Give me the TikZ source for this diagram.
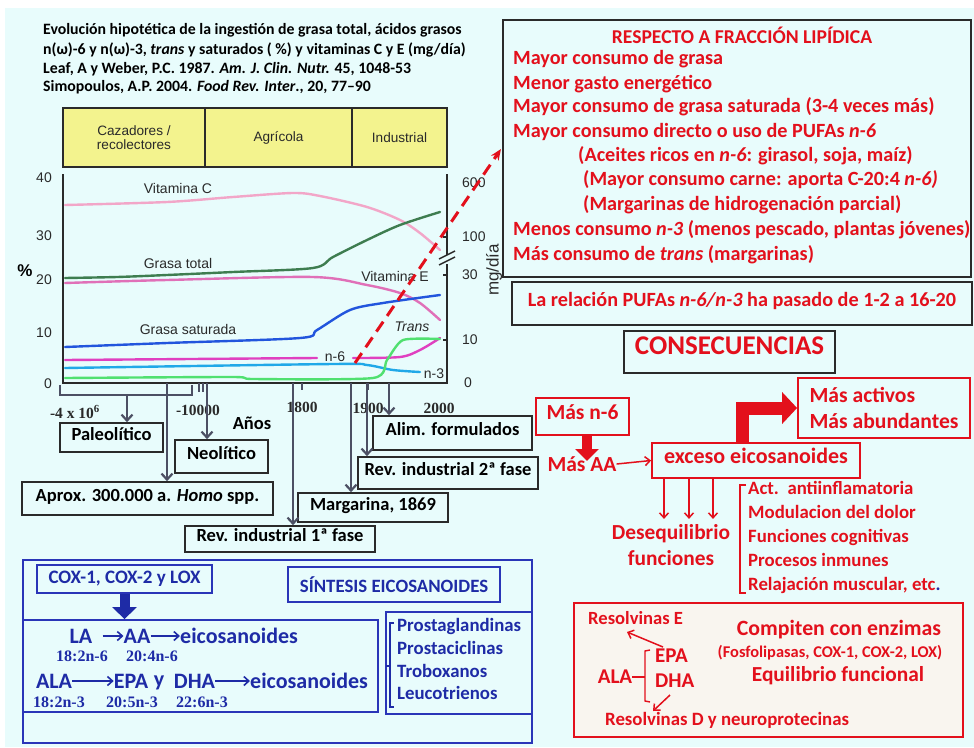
\documentclass[tikz,border=0pt]{standalone}
\usepackage{fontspec}
\setmainfont{Carlito}
\newfontfamily\arialf{Liberation Sans}
\newfontfamily\timesf{Liberation Serif}
\usetikzlibrary{arrows.meta}
\newcommand{\myfs}[1]{\fontsize{#1}{#1}\selectfont}
\definecolor{bgc}{HTML}{E8FCFC}
\definecolor{myred}{HTML}{E3101C}
\definecolor{myblue}{HTML}{1E2BA6}
\definecolor{bline}{HTML}{2A35B8}
\definecolor{gline}{HTML}{4C5064}
\definecolor{era}{HTML}{F3F38E}
\definecolor{dk}{HTML}{2A2A2A}
\definecolor{cvitc}{HTML}{F2A6C8}
\definecolor{cgt}{HTML}{3E7D50}
\definecolor{cvite}{HTML}{E070B8}
\definecolor{csat}{HTML}{2255DD}
\definecolor{cnsix}{HTML}{E040C0}
\definecolor{cnthree}{HTML}{20A8E8}
\definecolor{ctrans}{HTML}{50E070}
\definecolor{beige}{HTML}{F9F5EF}
\tikzset{
  ttl/.style={anchor=mid west, inner sep=0, font=\bfseries\myfs{15.8}, text=black},
  eratxt/.style={font=\arialf\myfs{13.6}, text=dk, align=center},
  clab/.style={font=\arialf\myfs{14}, text=dk, inner sep=0},
  curve/.style={line width=2.4pt, line cap=round, line join=round},
  yr/.style={font=\timesf\bfseries\myfs{15.5}, text=dk, inner sep=0},
  gbox/.style={draw=dk, line width=1.6pt, font=\bfseries\myfs{18.5}, text=black, inner sep=0, text height=0.72em, text depth=0.2em},
  tl/.style={draw=gline, line width=2.2pt, -{Straight Barb[length=6pt,width=11pt]}},
  rtxt/.style={anchor=mid west, inner sep=0, font=\bfseries\myfs{20.2}, text=myred},
  rbox/.style={draw=myred, line width=1.8pt, text=myred, font=\bfseries\myfs{21.5}, inner sep=0, text height=0.72em, text depth=0.2em},
  rboxb/.style={draw=myred, line width=1.8pt, text=myred, inner sep=0},
  kbox/.style={draw=dk, line width=1.8pt, text=myred, font=\bfseries\myfs{20.2}, inner sep=0, text height=0.72em, text depth=0.2em},
  btxt/.style={inner sep=0, font=\bfseries\myfs{22}, text=myblue},
  bsub/.style={inner sep=0, font=\timesf\bfseries\myfs{16}, text=myblue},
  barr/.style={draw=myblue, line width=1.6pt, -{Straight Barb[length=5pt,width=9pt]}},
  bbox/.style={draw=bline, line width=1.8pt, inner sep=0},
  plist/.style={anchor=mid west, inner sep=0, font=\bfseries\myfs{18.8}, text=myblue},
}
\begin{document}
\begin{tikzpicture}[x=1pt,y=-1pt]
\useasboundingbox (0,0) rectangle (974,747);
\fill[white] (0,0) rectangle (974,747);
\fill[bgc] (5,8) rectangle (974,747);

% ---------- title ----------
\node[ttl] (t1) at (43,32) {Evolución hipotética de la ingestión de grasa total, ácidos grasos};
\node[ttl] (t2) at (43,52) {n(ω)-6 y n(ω)-3, \textit{trans} y saturados ( \%) y vitaminas C y E (mg/día)};
\node[ttl] (t3) at (43,71) {Leaf, A y Weber, P.C. 1987. \textit{Am. J. Clin. Nutr.} 45, 1048-53};
\node[ttl] (t4) at (43,89) {Simopoulos, A.P. 2004. \textit{Food Rev. Inter}., 20, 77–90};

% ---------- eras ----------
\node[draw=dk, line width=1.6pt, fill=era, minimum width=142pt, minimum height=59pt, inner sep=0] (e1) at (134,137.5) {};
\node[draw=dk, line width=1.6pt, fill=era, minimum width=147pt, minimum height=59pt, inner sep=0] (e2) at (278.5,137.5) {};
\node[draw=dk, line width=1.6pt, fill=era, minimum width=95pt, minimum height=59pt, inner sep=0] (e3) at (399.5,137.5) {};
\node[eratxt] (e1t) at (e1) {Cazadores /\\recolectores};
\node[eratxt] (e2t) at (e2) {Agrícola};
\node[eratxt] (e3t) at (e3) {Industrial};

% ---------- chart frame ----------
\draw[dk, line width=2pt] (63,174) -- (63,383) -- (447,383) -- (447,264);
\draw[dk, line width=2pt] (447,255) -- (447,174);
\draw[dk, line width=1.5pt] (439,259) -- (455,251) (439,265) -- (455,257);
\foreach \yy in {237,275,340} \draw[dk, line width=1.5pt] (447,\yy) -- (443,\yy);

% left axis labels
\node[clab, anchor=east] (l40) at (52,178) {40};
\node[clab, anchor=east] (l30) at (52,236) {30};
\node[clab, anchor=east] (l20) at (52,280) {20};
\node[clab, anchor=east] (l10) at (52,333) {10};
\node[clab, anchor=east] (l0) at (52,384) {0};
\node[font=\arialf\bfseries\myfs{17}, inner sep=0] (pct) at (25,271) {\%};
% right axis labels
\node[clab, anchor=west] (r600) at (462,183) {600};
\node[clab, anchor=west] (r100) at (462,237) {100};
\node[clab, anchor=west] (r30) at (462,275) {30};
\node[clab, anchor=west] (r10) at (462,340) {10};
\node[clab, anchor=west] (r0) at (464,383) {0};
\node[clab, font=\arialf\myfs{17}, rotate=90] (mgd) at (494,270) {mg/día};

% curves
\draw[curve, cvitc] plot[smooth, tension=0.5] coordinates {(65,205) (167,202) (233,197) (293,193) (320,196) (367,207) (400,220) (420,233) (440,250)};
\draw[curve, cgt] plot[smooth, tension=0.5] coordinates {(65,278) (117,277) (167,275) (233,272) (313,268) (333,257) (367,240) (400,225) (440,212)};
\draw[curve, cvite] plot[smooth, tension=0.5] coordinates {(65,283) (167,280) (313,277) (367,285) (400,293) (420,303) (440,320)};
\draw[curve, csat] plot[smooth, tension=0.5] coordinates {(65,347) (167,343) (300,338) (317,330) (350,310) (383,303) (440,295)};
\draw[curve, cnsix] (65,360) -- (317,358);
\draw[curve, cnsix] plot[smooth, tension=0.5] coordinates {(353,358) (400,357) (420,350) (440,338)};
\draw[curve, cnthree] plot[smooth, tension=0.5] coordinates {(65,368) (333,364) (367,365) (393,370) (420,372)};
\draw[curve, ctrans] plot[smooth, tension=0.4] coordinates {(65,378) (233,377) (253,379) (373,378) (387,360) (403,340) (440,339)};

\node[clab] (lvc) at (178,188) {Vitamina C};
\node[clab] (lgt) at (178,263) {Grasa total};
\node[clab] (lve) at (395,276) {Vitamina E};
\node[clab] (lgs) at (188,329) {Grasa saturada};
\node[clab] (ln6) at (335,357) {n-6};
\node[clab] (ln3) at (434,374) {n-3};
\node[clab, font=\arialf\itshape\myfs{14}] (ltr) at (412,327) {Trans};

% ---------- timeline ----------
\draw[gline, line width=2pt] (60,385) -- (60,395) -- (192,395) -- (192,385);
\draw[gline, line width=2pt] (199,383) -- (199,392) (203,383) -- (203,392) (302,383) -- (302,390) (368,383) -- (368,390);

\node[yr] (y1) at (75,412) {-4 x 10\textsuperscript{6}};
\node[yr] (y2) at (198,410) {-10000};
\node[font=\bfseries\myfs{18.5}, inner sep=0] (anos) at (252,423) {Años};
\node[yr] (y3) at (302,407) {1800};
\node[yr] (y4) at (368,408) {1900};
\node[yr] (y5) at (439,408) {2000};

\node[gbox, minimum width=103pt, minimum height=29pt] (pal) at (111.5,437.5) {Paleolítico};
\node[gbox, minimum width=93pt, minimum height=33pt] (neo) at (221.5,456.5) {Neolítico};
\node[gbox, minimum width=251pt, minimum height=33pt] (apr) at (147.5,498.5) {Aprox. 300.000 a. \textit{Homo} spp.};
\node[gbox, minimum width=190pt, minimum height=26pt] (rev1) at (280,539) {Rev. industrial 1ª fase};
\node[gbox, minimum width=150pt, minimum height=29pt] (marg) at (373,507.5) {Margarina, 1869};
\node[gbox, minimum width=180pt, minimum height=32pt] (rev2) at (448,473) {Rev. industrial 2ª fase};
\node[gbox, minimum width=159pt, minimum height=34pt] (alim) at (452.5,433) {Alim. formulados};

\coordinate (tb) at (127,395);
\coordinate (ta) at (167,383);
\coordinate (tn) at (207,383);
\coordinate (tr1) at (293,383);
\coordinate (tm) at (351,383);
\coordinate (tr2) at (367,383);
\coordinate (tal) at (389,383);
\draw[tl] (tb) -- (tb |- pal.north);
\draw[tl] (ta) -- (ta |- apr.north);
\draw[tl] (tn) -- (tn |- neo.north);
\draw[tl] (tr1) -- (tr1 |- rev1.north);
\draw[tl] (tm) -- (tm |- marg.north);
\draw[tl] (tr2) -- (tr2 |- rev2.north);
\draw[tl] (tal) -- (tal |- alim.north);

% ---------- right top box ----------
\node[draw=dk, line width=1.8pt, minimum width=468pt, minimum height=257pt, inner sep=0] (big) at (737,148.5) {};
\node[rtxt, anchor=center, font=\bfseries\myfs{19.6}] (rh) at (742,35) {RESPECTO A FRACCIÓN LIPÍDICA};
\node[rtxt] (ra) at (513,62) {Mayor consumo de grasa};
\node[rtxt] (rb) at (513,87) {Menor gasto energético};
\node[rtxt] (rc) at (513,110) {Mayor consumo de grasa saturada (3-4 veces más)};
\node[rtxt] (rd) at (513,135) {Mayor consumo directo o uso de PUFAs \textit{n-6}};
\node[rtxt] (re) at (578,159) {(Aceites ricos en \textit{n-6}: girasol, soja, maíz)};
\node[rtxt] (rf) at (583,183) {(Mayor consumo carne: aporta C-20:4 \textit{n-6)}};
\node[rtxt] (rg) at (583,208) {(Margarinas de hidrogenación parcial)};
\node[rtxt] (rh2) at (513,233) {Menos consumo \textit{n-3} (menos pescado, plantas jóvenes)};
\node[rtxt] (ri) at (513,258) {Más consumo de \textit{trans} (margarinas)};

\coordinate (ds) at (355,363);
\coordinate (de) at (501,149);
\draw[myred, line width=3pt, dash pattern=on 12pt off 7pt, -{Stealth[length=11pt,width=9pt]}] (ds) -- (de);

\node[kbox, minimum width=460pt, minimum height=43pt] (pufa) at (742,303.5) {La relación PUFAs \textit{n-6/n-3} ha pasado de 1-2 a 16-20};

% ---------- consecuencias ----------
\node[kbox, minimum width=211pt, minimum height=42pt, font=\bfseries\myfs{27}] (cons) at (729.5,352) {CONSECUENCIAS};
\node[rbox, minimum width=93pt, minimum height=37pt] (mn6) at (582.5,416.5) {Más n-6};
\node[rtxt, anchor=center, font=\bfseries\myfs{21.5}] (maa) at (582,464) {Más AA};
\node[rbox, font=\bfseries\myfs{22}, minimum width=208pt, minimum height=35pt] (exc) at (756,460.5) {exceso eicosanoides};
\node[rboxb, minimum width=172pt, minimum height=60pt, align=left, font=\bfseries\fontsize{21.6}{26}\selectfont] (act) at (884,408) {Más activos\\Más abundantes};

\coordinate (dn) at (587,435);
\coordinate (dnend) at (587,461);
\draw[myred, line width=10pt, -{Triangle[length=12pt,width=23pt]}] (dn) -- (dnend);
\draw[myred, line width=1.5pt, -{Straight Barb[length=5pt,width=9pt]}] (maa.east) -- (exc.west);
\coordinate (bx) at (742,0);
\draw[myred, line width=13pt, -{Triangle[length=15pt,width=31pt]}] (exc.north -| bx) |- (act.west);

\coordinate (d1) at (664,0);
\coordinate (d2) at (689,0);
\coordinate (d3) at (713,0);
\node[rtxt, anchor=center, align=center, font=\bfseries\fontsize{21.4}{26}\selectfont] (deseq) at (671,545) {Desequilibrio\\funciones};
\foreach \c in {d1,d2,d3}
  \draw[myred, line width=1.5pt, -{Straight Barb[length=5pt,width=9pt]}] (exc.south -| \c) -- ++(0,40);
\draw[myred, line width=1.3pt] (746,485) -- (740,485) -- (740,593) -- (746,593);
\node[rtxt, anchor=west, align=left, font=\bfseries\fontsize{18.8}{24}\selectfont] (funcs) at (748,537) {Act.\ \ antiinflamatoria\\Modulacion del dolor\\Funciones cognitivas\\Procesos inmunes\\Relajación muscular, etc\textcolor{myblue}{.}};

% ---------- bottom right box ----------
\node[draw=myred, line width=2pt, fill=beige, minimum width=389pt, minimum height=134pt, inner sep=0] (br) at (768.5,670) {};
\node[rtxt, font=\bfseries\myfs{18.6}] (rese) at (588,622) {Resolvinas E};
\node[rtxt, font=\bfseries\myfs{21}] (epa) at (655,660) {EPA};
\node[rtxt, font=\bfseries\myfs{21}] (dha) at (655,685) {DHA};
\node[rtxt, anchor=center, font=\bfseries\myfs{21}] (alab) at (615,677) {ALA};
\node[rtxt, font=\bfseries\myfs{18.8}] (resd) at (605,723) {Resolvinas D y neuroprotecinas};
\node[rtxt, anchor=center, font=\bfseries\myfs{21.8}] (comp) at (839,630) {Compiten con enzimas};
\node[rtxt, anchor=center, font=\bfseries\myfs{16.4}] (fosf) at (830,653) {(Fosfolipasas, COX-1, COX-2, LOX)};
\node[rtxt, anchor=center, font=\bfseries\myfs{21.4}] (equi) at (838,676) {Equilibrio funcional};
\draw[myred, line width=1.4pt] (650,650) -- (645,651) -- (645,701) -- (650,702);
\draw[myred, line width=1.4pt] (alab.east) -- (645,677);
\coordinate (reend) at (627,632);
\coordinate (epast) at (663,647);
\coordinate (dhast) at (670,695);
\coordinate (rdend) at (653,711);
\draw[myred, line width=1.5pt, -{Straight Barb[length=5pt,width=9pt]}] (epast) -- (reend);
\draw[myred, line width=1.5pt, -{Straight Barb[length=5pt,width=9pt]}] (dhast) -- (rdend);

% ---------- bottom left blue box ----------
\node[bbox, minimum width=509pt, minimum height=183pt] (syn) at (277.5,651.5) {};
\node[bbox, minimum width=355pt, minimum height=92pt] (inner) at (200.5,666) {};
\node[bbox, minimum width=146pt, minimum height=102pt] (plbox) at (459,663) {};
\node[bbox, minimum width=175pt, minimum height=28pt, font=\bfseries\myfs{19}, text=myblue] (cox) at (124.5,579) {COX-1, COX-2 y LOX};
\node[bbox, minimum width=212pt, minimum height=35pt, font=\bfseries\myfs{18.8}, text=myblue] (sint) at (394,584.5) {SÍNTESIS EICOSANOIDES};
\draw[myblue, line width=10pt, -{Triangle[length=12pt,width=24pt]}] (cox.south) -- (inner.north -| cox.south);

\node[btxt] (la) at (81,636) {LA};
\node[btxt] (aa) at (137,636) {AA};
\node[btxt, anchor=west] (eic1) at (180,636) {eicosanoides};
\draw[barr, shorten <=10pt] (la.east) -- (aa.west);
\draw[barr] (aa.east) -- (eic1.west);
\node[btxt] (ala) at (54,681) {ALA};
\node[btxt] (epab) at (131,681) {EPA};
\node[btxt] (yb) at (159,683) {y};
\node[btxt] (dhab) at (194.5,681) {DHA};
\node[btxt, anchor=west] (eic2) at (250,681) {eicosanoides};
\draw[barr] (ala.east) -- (epab.west);
\draw[barr] (dhab.east) -- (eic2.west);
\node[bsub] (s1) at (82,656) {18:2n-6};
\node[bsub] (s2) at (152,656) {20:4n-6};
\node[bsub] (s3) at (59,702) {18:2n-3};
\node[bsub] (s4) at (132,702) {20:5n-3};
\node[bsub] (s5) at (202,702) {22:6n-3};

\draw[myblue, line width=1.2pt] (394,623) -- (390,623) -- (390,707) -- (394,707) (390,666) -- (386,666);
\node[plist] (p1) at (397,629) {Prostaglandinas};
\node[plist] (p2) at (397,652) {Prostaciclinas};
\node[plist] (p3) at (397,675) {Troboxanos};
\node[plist] (p4) at (397,697) {Leucotrienos};
\end{tikzpicture}
\end{document}
